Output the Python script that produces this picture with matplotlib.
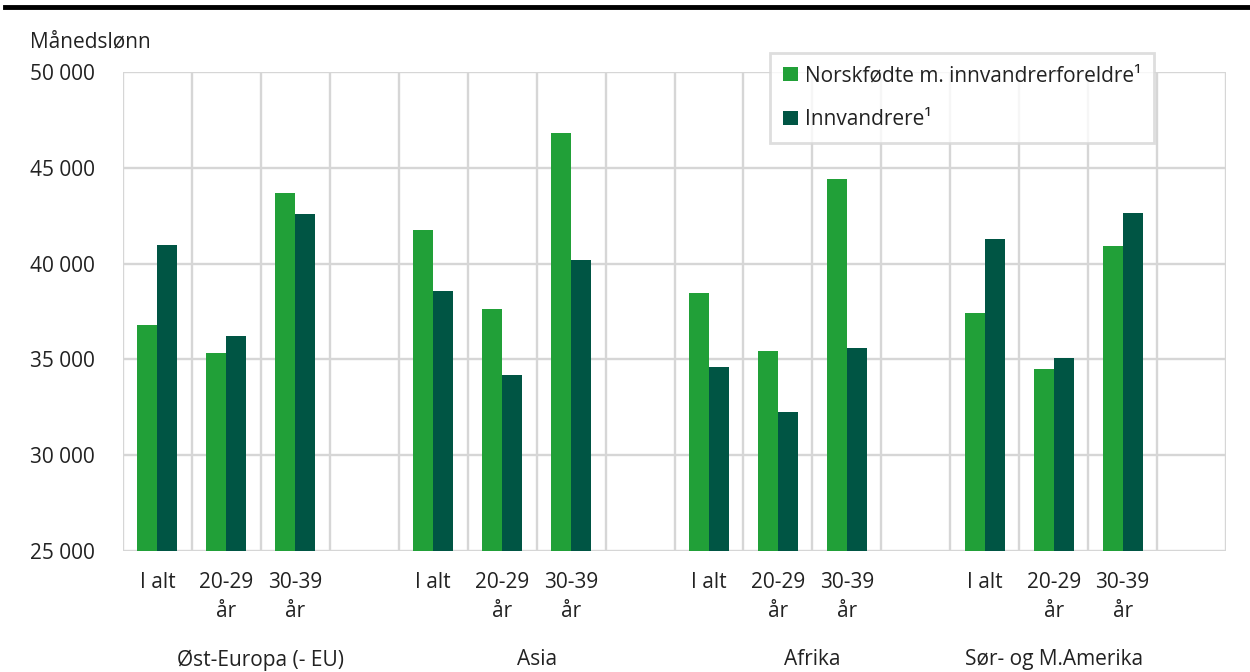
import numpy as np
import matplotlib.pyplot as plt
from matplotlib.lines import Line2D
from matplotlib.patches import Patch

plt.rcParams['font.family'] = ['Open Sans', 'DejaVu Sans']

# data
grupper = ['Øst-Europa (- EU)', 'Asia', 'Afrika', 'Sør- og M.Amerika']
alder = ['I alt', '20-29\når', '30-39\når']
norskfodte = [36800, 35330, 43690,
              41750, 37630, 46820,
              38470, 35440, 44420,
              37420, 34500, 40920]
innvandrere = [40970, 36220, 42590,
               38570, 34190, 40190,
               34600, 32260, 35600,
               41280, 35070, 42640]
serier = ['Norskfødte m. innvandrerforeldre¹', 'Innvandrere¹']
farger = ['#21A038', '#005544']
grid_col = '#d6d6d6'

fig = plt.figure(figsize=(12.5, 6.72), dpi=100)
ax = fig.add_axes([0.0984, 0.180, 0.8824, 0.713])

# 4 slots per group, last one empty
pos = np.array([g * 4 + k for g in range(4) for k in range(3)])
bw = 0.29
ax.bar(pos - bw / 2, norskfodte, width=bw, color=farger[0], zorder=3)
ax.bar(pos + bw / 2, innvandrere, width=bw, color=farger[1], zorder=3)

ax.set_xlim(-0.5, 15.5)
ax.set_ylim(25000, 50000)

# grid
for y in range(25000, 50001, 5000):
    ax.axhline(y, color=grid_col, lw=1.7, zorder=1)
for x in np.arange(-0.5, 15.6, 1):
    ax.axvline(x, color=grid_col, lw=1.7, zorder=1)
for s in ax.spines.values():
    s.set_visible(False)

ax.set_yticks(range(25000, 50001, 5000))
ax.set_yticklabels([f'{v:,}'.replace(',', ' ') for v in range(25000, 50001, 5000)],
                   fontsize=15, color='#222222')
ax.tick_params(axis='y', length=0, pad=20)

ax.set_xticks(pos)
ax.set_xticklabels(alder * 4, fontsize=15, color='#222222', linespacing=1.5)
ax.tick_params(axis='x', length=0, pad=15)

gruppe_x = [1.5, 5.5, 9.5, 13.0]
for gx, navn in zip(gruppe_x, grupper):
    ax.text(gx, -0.227, navn, transform=ax.get_xaxis_transform(),
            ha='center', va='center', fontsize=15, color='#222222')

fig.text(0.024, 0.937, 'Månedslønn', fontsize=15, color='#222222', va='center')

# legend
handles = [Patch(facecolor=c, edgecolor='none') for c in farger]
leg = ax.legend(handles, serier, loc='upper left', bbox_to_anchor=(0.587, 1.04),
                fontsize=15, frameon=True, fancybox=False, handlelength=0.7,
                handleheight=0.7, handletextpad=0.35, labelspacing=1.1,
                borderpad=0.6, borderaxespad=0)
leg.get_frame().set_edgecolor(grid_col)
leg.get_frame().set_linewidth(2)
for t in leg.get_texts():
    t.set_color('#222222')

# black line at top
fig.add_artist(Line2D([0.004, 1.0], [0.99, 0.99], color='black', lw=3.5,
                      transform=fig.transFigure))

plt.savefig('out.png', dpi=100)
